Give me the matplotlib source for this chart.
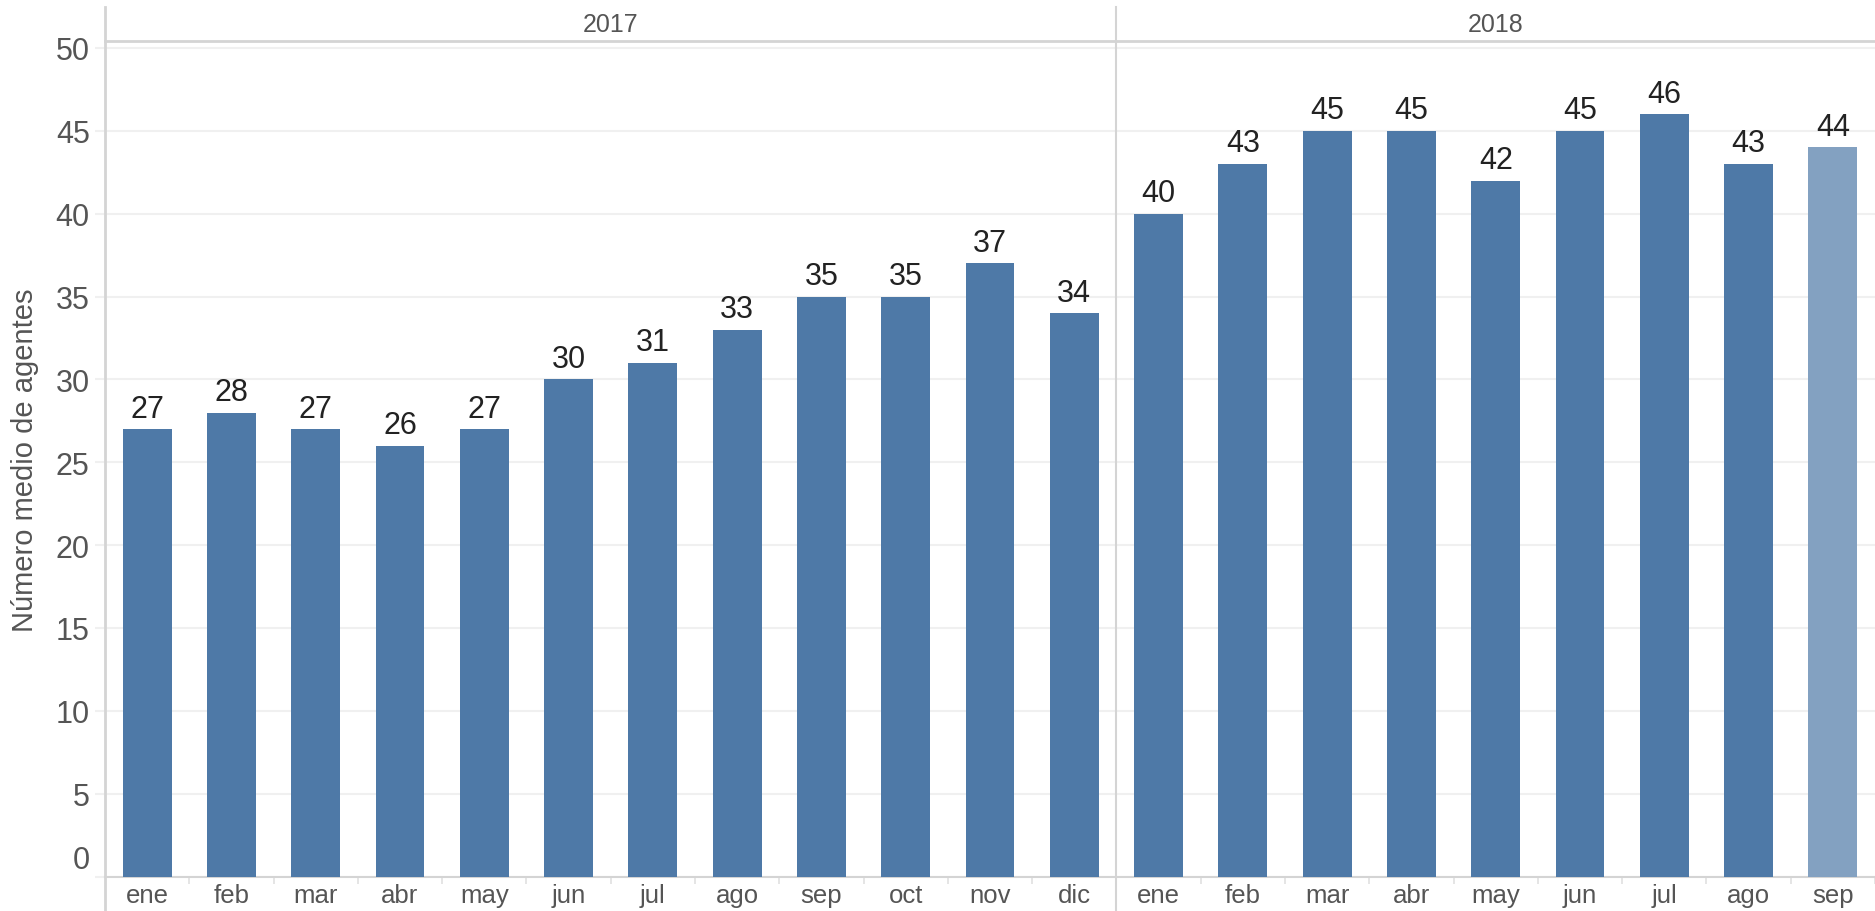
import numpy as np
import matplotlib.pyplot as plt
from matplotlib.transforms import blended_transform_factory, ScaledTranslation
from matplotlib.lines import Line2D

plt.rcParams["font.family"] = ["Liberation Sans", "DejaVu Sans"]

# datos
meses_2017 = ["ene", "feb", "mar", "abr", "may", "jun", "jul", "ago", "sep", "oct", "nov", "dic"]
meses_2018 = ["ene", "feb", "mar", "abr", "may", "jun", "jul", "ago", "sep"]
agentes_2017 = [27, 28, 27, 26, 27, 30, 31, 33, 35, 35, 37, 34]
agentes_2018 = [40, 43, 45, 45, 42, 45, 46, 43, 44]
anios = ["2017", "2018"]

BLUE = "#4e79a7"
BLUE_LIGHT = "#83a1c1"
GRID = "#f0f0f0"
LINE = "#d4d4d4"
TXT = "#555555"

W, H = 1875, 912
fig = plt.figure(figsize=(W / 100, H / 100), dpi=100)

# ejes principales (en pixeles de la imagen)
x0, x1 = 105, 1875
y_base, y_top = 877.5, 42
ax = fig.add_axes([x0 / W, (H - y_base) / H, (x1 - x0) / W, (y_base - y_top) / H])

labels = meses_2017 + meses_2018
values = agentes_2017 + agentes_2018
n = len(values)
xs = np.arange(n)
colors = [BLUE] * (n - 1) + [BLUE_LIGHT]

ax.bar(xs, values, width=0.58, color=colors, zorder=3)
for x, v in zip(xs, values):
    ax.annotate(str(v), (x, v), xytext=(0, 4), textcoords="offset points",
                ha="center", va="bottom", fontsize=22, color="#222222")

slot = 84.75  # px por mes
ax.set_xlim(-0.5, -0.5 + (x1 - x0) / slot)
ax.set_ylim(0, 50.42)

ax.set_yticks(np.arange(0, 51, 5))
ax.grid(axis="y", color=GRID, linewidth=1.5, zorder=0)
ax.tick_params(axis="y", length=7, color=GRID, width=1.5, labelsize=22,
               labelcolor=TXT, pad=4)
# el 0 va un poco más arriba, como en Tableau
fig.canvas.draw()
lab0 = ax.get_yticklabels()[0]
lab0.set_transform(lab0.get_transform() + ScaledTranslation(0, 20 / 100, fig.dpi_scale_trans))

ax.set_xticks(xs)
ax.set_xticklabels(labels)
ax.set_xticks(np.arange(n) + 0.5, minor=True)
ax.tick_params(axis="x", which="major", length=0, labelsize=18.5, labelcolor=TXT, pad=5)
ax.tick_params(axis="x", which="minor", length=5, color="#e0e0e0", width=1.2)

for s in ["top", "right", "left"]:
    ax.spines[s].set_visible(False)
ax.spines["bottom"].set_color(LINE)
ax.spines["bottom"].set_linewidth(1.5)

ax.set_ylabel("Número medio de agentes", fontsize=21, color=TXT)
ax.yaxis.set_label_coords(-0.0375, 0.5)

# cabecera de años
tr = blended_transform_factory(ax.transData, fig.transFigure)
y_head_top = 1 - 8 / H
y_head_line = 1 - 42 / H
ax.text(5.5, 1 - 25 / H, anios[0], transform=tr, ha="center", va="center",
        fontsize=18, color=TXT)
ax.text(11.5 + len(meses_2018) / 2, 1 - 25 / H, anios[1], transform=tr,
        ha="center", va="center", fontsize=18, color=TXT)

fig.add_artist(Line2D([x0 / W, 1], [y_head_line, y_head_line], transform=fig.transFigure,
                      color=LINE, linewidth=2))
fig.add_artist(Line2D([x0 / W, x0 / W], [0, y_head_top], transform=fig.transFigure,
                      color=LINE, linewidth=2))
fig.add_artist(Line2D([11.5, 11.5], [0, y_head_top], transform=tr,
                      color=LINE, linewidth=1.5))

fig.savefig("out.png", dpi=100, facecolor="white")
